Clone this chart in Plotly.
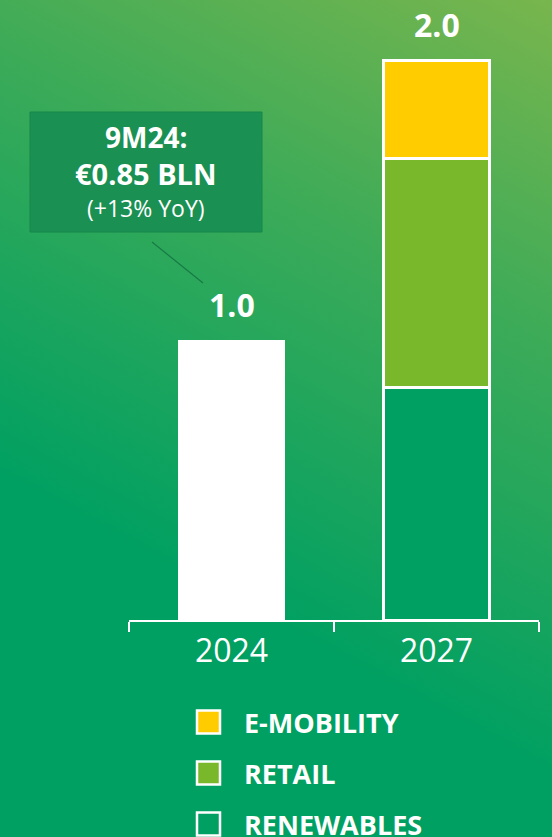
import base64
import plotly.graph_objects as go

# ---- data ----
years = ["2024", "2027"]
total_2024 = [1.0, None]
renewables = [None, 0.83]
retail = [None, 0.82]
emobility = [None, 0.35]
totals = [1.0, 2.0]
total_labels = ["1.0", "2.0"]
series_names = ["E-MOBILITY", "RETAIL", "RENEWABLES"]
series_colors = ["#FFCC00", "#78B82A", "#00A062"]
callout_lines = ["9M24:", "€0.85 BLN", "(+13% YoY)"]

W, H = 552, 837
FONT = "Open Sans"

# gradient background as inline SVG
svg = f'''<svg xmlns="http://www.w3.org/2000/svg" width="{W}" height="{H}" viewBox="0 0 {W} {H}" preserveAspectRatio="none">
<defs><linearGradient id="g" gradientUnits="userSpaceOnUse" x1="560" y1="-10" x2="230" y2="600">
<stop offset="0" stop-color="#7BB64D"/>
<stop offset="0.45" stop-color="#3DAB58"/>
<stop offset="1" stop-color="#00A062"/>
</linearGradient></defs>
<rect width="{W}" height="{H}" fill="url(#g)"/></svg>'''
bg_src = "data:image/svg+xml;base64," + base64.b64encode(svg.encode()).decode()

fig = go.Figure()
bar_w = 0.52
line = dict(color="white", width=3)
fig.add_trace(go.Bar(x=years, y=total_2024, marker=dict(color="white", line=dict(color="white", width=0)),
                     width=bar_w, showlegend=False, hoverinfo="skip"))
fig.add_trace(go.Bar(x=years, y=renewables, name=series_names[2], marker=dict(color=series_colors[2], line=line),
                     width=bar_w, showlegend=False))
fig.add_trace(go.Bar(x=years, y=retail, name=series_names[1], marker=dict(color=series_colors[1], line=line),
                     width=bar_w, showlegend=False))
fig.add_trace(go.Bar(x=years, y=emobility, name=series_names[0], marker=dict(color=series_colors[0], line=line),
                     width=bar_w, showlegend=False))

annotations = []
for i, (tot, lab) in enumerate(zip(totals, total_labels)):
    annotations.append(dict(x=i, y=tot, xref="x", yref="y", text=f"<b>{lab}</b>", showarrow=False,
                            xanchor="center", yanchor="bottom", yshift=12,
                            font=dict(family=FONT, size=32, color="white")))

# callout box
bx0, bx1, by0, by1 = 30, 262, 112, 232
px = lambda v: v / W
py = lambda v: (H - v) / H
shapes = [
    dict(type="rect", xref="paper", yref="paper", x0=px(bx0), x1=px(bx1), y0=py(by1), y1=py(by0),
         fillcolor="#1A9052", line=dict(color="#16864A", width=1), layer="below"),
    dict(type="line", xref="paper", yref="paper", x0=px(152), y0=py(242), x1=px(203), y1=py(283),
         line=dict(color="#167A45", width=1.2)),
]
cx = px((bx0 + bx1) / 2)
annotations.append(dict(xref="paper", yref="paper", x=cx, y=py(137), text=f"<b>{callout_lines[0]}</b>",
                        xanchor="center", yanchor="middle",
                        showarrow=False, font=dict(family=FONT, size=28, color="white")))
annotations.append(dict(xref="paper", yref="paper", x=cx, y=py(173), text=f"<b>{callout_lines[1]}</b>",
                        xanchor="center", yanchor="middle",
                        showarrow=False, font=dict(family=FONT, size=29, color="white")))
annotations.append(dict(xref="paper", yref="paper", x=cx, y=py(208), text=callout_lines[2],
                        xanchor="center", yanchor="middle",
                        showarrow=False, font=dict(family=FONT, size=23, color="white")))

# manual legend
leg_y = [722, 773, 824]
for name, col, yy in zip(series_names, series_colors, leg_y):
    shapes.append(dict(type="rect", xref="paper", yref="paper", x0=px(197), x1=px(220), y0=py(yy + 11.5),
                       y1=py(yy - 11.5), fillcolor=col, line=dict(color="white", width=2.5)))
    annotations.append(dict(xref="paper", yref="paper", x=px(242), y=py(yy), xanchor="left", yanchor="middle",
                            text=f"<b>{name}</b>", showarrow=False, font=dict(family=FONT, size=27, color="white")))

base_px = 620
px_per_unit = 280
fig.update_layout(
    width=W, height=H, barmode="stack",
    margin=dict(l=0, r=0, t=0, b=0),
    paper_bgcolor="#00A062", plot_bgcolor="rgba(0,0,0,0)",
    images=[dict(source=bg_src, xref="paper", yref="paper", x=0, y=1, sizex=1, sizey=1,
                 sizing="stretch", layer="below", xanchor="left", yanchor="top")],
    xaxis=dict(domain=[129 / W, 539 / W], type="category", range=[-0.5, 1.5],
               tickson="boundaries", ticks="outside", ticklen=10, tickwidth=2, tickcolor="white",
               showline=True, linecolor="white", linewidth=2, showgrid=False,
               tickfont=dict(family=FONT, size=32, color="white"), ticklabelstandoff=2),
    yaxis=dict(domain=[(H - base_px) / H, 1], range=[0, base_px / px_per_unit], visible=False, showgrid=False),
    shapes=shapes, annotations=annotations, showlegend=False,
)
fig.write_html("out.html", config={"displayModeBar": False},
               post_script="document.body.style.margin='0';document.body.style.overflow='hidden';")
